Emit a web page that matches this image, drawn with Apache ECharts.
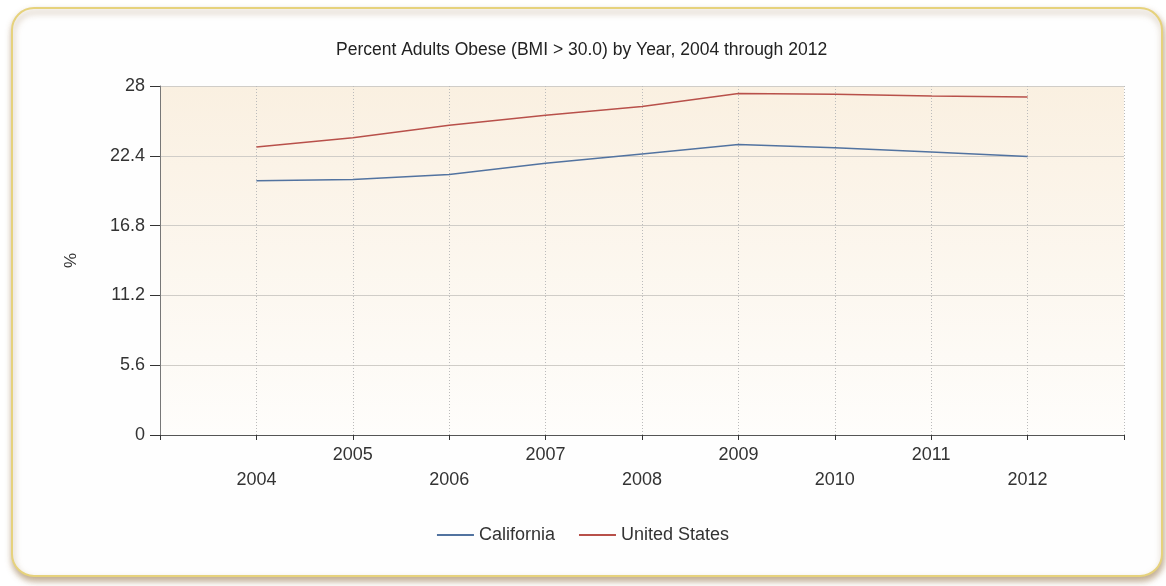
<!DOCTYPE html>
<html>
<head>
<meta charset="utf-8">
<script src="https://cdn.jsdelivr.net/npm/echarts@6/dist/echarts.min.js"></script>
<style>
html,body{margin:0;padding:0;background:#fff;}
#c{width:1166px;height:586px;}
</style>
</head>
<body>
<div id="c"></div>
<script>
const years = [2004, 2005, 2006, 2007, 2008, 2009, 2010, 2011, 2012];
const california = [20.4, 20.5, 20.9, 21.8, 22.55, 23.3, 23.05, 22.7, 22.35];
const unitedStates = [23.1, 23.85, 24.85, 25.65, 26.35, 27.4, 27.33, 27.2, 27.12];
const yTicks = [0, 5.6, 11.2, 16.8, 22.4, 28];
const titleText = 'Percent Adults Obese (BMI > 30.0) by Year, 2004 through 2012';
const seriesNames = ['California', 'United States'];

const font = '"Liberation Sans", Arial, sans-serif';
const chart = echarts.init(document.getElementById('c'));
chart.setOption({
  backgroundColor: '#ffffff',
  animation: false,
  graphic: [{
    type: 'rect',
    z: -10,
    shape: {x: 12, y: 8, width: 1150, height: 568, r: 22},
    style: {
      fill: '#fefefe',
      stroke: '#e6d27c',
      lineWidth: 2,
      shadowColor: 'rgba(150,115,70,0.6)',
      shadowBlur: 6,
      shadowOffsetX: 1,
      shadowOffsetY: 4
    }
  }],
  title: {
    text: titleText,
    left: 331,
    top: 36,
    textStyle: {fontFamily: font, fontSize: 17.5, fontWeight: 'normal', color: '#222'}
  },
  legend: {
    bottom: 37,
    left: 'center',
    itemWidth: 37,
    itemHeight: 2,
    itemGap: 24,
    icon: 'rect',
    textStyle: {fontFamily: font, fontSize: 18, color: '#333'},
    data: seriesNames
  },
  grid: {
    left: 160, right: 42, top: 86, bottom: 151,
    show: true,
    borderWidth: 0,
    backgroundColor: new echarts.graphic.LinearGradient(0, 0, 0, 1, [
      {offset: 0, color: '#faf0e1'},
      {offset: 1, color: '#fefdfb'}
    ])
  },
  xAxis: {
    type: 'value',
    min: 2003, max: 2013, interval: 1,
    axisLine: {show: true, onZero: false, lineStyle: {color: '#555', width: 1}},
    axisTick: {show: true, length: 5, lineStyle: {color: '#333'}},
    splitLine: {show: true, lineStyle: {color: '#bbb', type: [1, 2], width: 1}},
    axisLabel: {
      fontFamily: font, fontSize: 18, color: '#333',
      margin: 8,
      lineHeight: 25,
      formatter: function (v) {
        if (years.indexOf(v) < 0) return '';
        return (v % 2 === 0) ? '\n' + v : '' + v;
      }
    }
  },
  yAxis: {
    type: 'value',
    min: 0, max: 28, interval: 5.6,
    name: '%',
    nameLocation: 'middle',
    nameGap: 80,
    nameTextStyle: {fontFamily: font, fontSize: 17, color: '#333'},
    axisLine: {show: true, lineStyle: {color: '#777', width: 1}},
    axisTick: {show: true, length: 10, lineStyle: {color: '#333'}},
    splitLine: {show: true, lineStyle: {color: '#d0cdc8', width: 1}},
    axisLabel: {
      fontFamily: font, fontSize: 18, color: '#333', margin: 15,
      formatter: function (v) {
        const t = yTicks.find(x => Math.abs(x - v) < 1e-6);
        return t === undefined ? '' : String(t);
      }
    }
  },
  series: [
    {
      name: seriesNames[0], type: 'line', symbol: 'none',
      lineStyle: {color: '#5273a0', width: 1.5},
      itemStyle: {color: '#5273a0'},
      data: years.map((y, i) => [y, california[i]])
    },
    {
      name: seriesNames[1], type: 'line', symbol: 'none',
      lineStyle: {color: '#b8504a', width: 1.5},
      itemStyle: {color: '#b8504a'},
      data: years.map((y, i) => [y, unitedStates[i]])
    }
  ]
});
</script>
</body>
</html>
